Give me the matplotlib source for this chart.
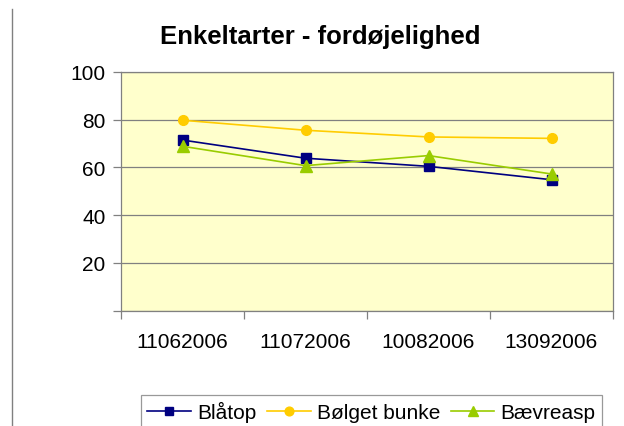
import matplotlib
matplotlib.use("Agg")
import matplotlib.pyplot as plt
from matplotlib.lines import Line2D

plt.rcParams['font.family'] = ['Liberation Sans', 'DejaVu Sans']

categories = ["11062006", "11072006", "10082006", "13092006"]
blatop = [71.4, 63.8, 60.4, 54.8]
bolget = [79.7, 75.5, 72.7, 72.1]
baevreasp = [68.8, 60.7, 64.9, 57.2]
series_names = ["Blåtop", "Bølget bunke", "Bævreasp"]
yticks = [0, 20, 40, 60, 80, 100]
ytick_labels = ["", "20", "40", "60", "80", "100"]

FS = 15

fig = plt.figure(figsize=(6.24, 4.27), dpi=100)
ax = fig.add_axes([121/624, 1-311.7/427, (613-121)/624, (311.7-72.7)/427])
ax.set_facecolor("#FFFFCC")

x = list(range(len(categories)))
ax.plot(x, blatop, color="#000080", marker="s", markersize=7, lw=1.2, label=series_names[0])
ax.plot(x, bolget, color="#FFCC00", marker="o", markersize=7, lw=1.2, label=series_names[1])
ax.plot(x, baevreasp, color="#99CC00", marker="^", markersize=8, lw=1.2, label=series_names[2])

ax.set_xlim(-0.5, len(categories) - 0.5)
ax.set_ylim(0, 100)
ax.set_yticks(yticks)
ax.set_yticklabels(ytick_labels, fontsize=FS)
ax.yaxis.grid(True, color="#808080", lw=0.9)
ax.set_axisbelow(True)

ax.set_xticks([i - 0.5 for i in range(len(categories) + 1)])
ax.set_xticklabels([])
ax.set_xticks(x, minor=True)
ax.set_xticklabels(categories, minor=True, fontsize=FS)
ax.tick_params(axis="x", which="minor", length=0, pad=15)
ax.tick_params(axis="both", which="major", length=6, color="#808080", width=0.9)
ax.tick_params(axis="y", pad=5)

for s in ax.spines.values():
    s.set_color("#808080")
    s.set_linewidth(0.9)

fig.text(320/624, 1-37/427, "Enkeltarter - fordøjelighed", ha="center", va="center",
         fontsize=18.5, fontweight="bold")

fig.add_artist(Line2D([12/624, 12/624], [0, 1-10/427], color="#808080", lw=1))

leg = fig.legend(loc="upper left", bbox_to_anchor=(141/624, 1-396/427), ncol=3,
                 fontsize=FS, frameon=True, fancybox=False, edgecolor="#808080",
                 handlelength=2.1, columnspacing=0.5, handletextpad=0.3,
                 borderpad=0.3, borderaxespad=0, markerscale=0.9)
leg.get_frame().set_linewidth(0.9)

fig.savefig("out.png", dpi=100)
